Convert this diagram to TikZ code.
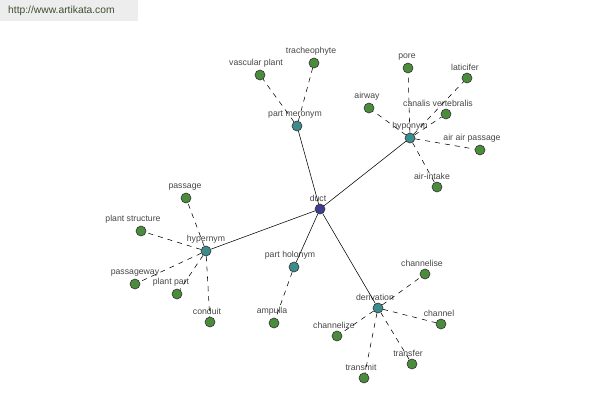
\documentclass[tikz,border=0pt]{standalone}
\usepackage{fontspec}
\setmainfont{Liberation Sans}
\begin{document}
\begin{tikzpicture}[x=1pt,y=-1pt,
  base/.style={circle,draw=black!80,line width=0.6pt,minimum size=10pt,inner sep=0pt},
  gnode/.style={base,fill=green1},
  tnode/.style={base,fill=teal1},
  cnode/.style={base,fill=navy1},
  lbl/.style={font=\fontsize{8.7}{9}\selectfont,text=black!72,inner sep=0.3pt},
  every label/.style={lbl},
  label distance=1.5pt,
  rel/.style={draw=black,line width=0.55pt},
  sub/.style={draw=black,line width=0.55pt,dash pattern=on 5pt off 5pt}]
\definecolor{green1}{HTML}{4A8C3C}
\definecolor{teal1}{HTML}{3C8C8C}
\definecolor{navy1}{HTML}{3E3E8E}
\definecolor{wmtext}{HTML}{3F4F30}
\useasboundingbox (0,0) rectangle (600,400);
\fill[white] (0,0) rectangle (600,400);
\node[fill=black!7,minimum width=138pt,minimum height=21pt,anchor=north west,inner sep=0pt] (wm) at (0,0) {};
\node[font=\fontsize{10.3}{11}\selectfont,text=wmtext,anchor=west,inner sep=0pt] (wmt) at (8,11) {http://www.artikata.com};
\coordinate (pduct) at (320,209);
\coordinate (ppm) at (297,126);
\coordinate (phyp) at (410,138);
\coordinate (phyper) at (206,251);
\coordinate (pph) at (294,267);
\coordinate (pder) at (378,308);
% nodes
\node[gnode,label={[xshift=-4pt]above:vascular plant}] (vp) at (260,75) {};
\node[gnode,label={[xshift=-3pt]above:tracheophyte}] (tr) at (314,63) {};
\node[gnode,label={[xshift=-1pt]above:pore}] (po) at (408,68) {};
\node[gnode,label={[xshift=-2pt]above:laticifer}] (la) at (467,78) {};
\node[gnode,label={[xshift=-2pt]above:airway}] (aw) at (369,108) {};
\node[gnode,label={[xshift=-8pt]above:canalis vertebralis}] (cv) at (446,114) {};
\node[gnode,label={[xshift=-8pt]above:air air passage}] (ap) at (480,150) {};
\node[gnode,label={[xshift=-5pt]above:air-intake}] (ai) at (437,187) {};
\node[gnode,label={[xshift=-1pt]above:passage}] (pa) at (186,198) {};
\node[gnode,label={[xshift=-8pt]above:plant structure}] (ps) at (141,231) {};
\node[gnode,label={above:passageway}] (pw) at (135,284) {};
\node[gnode,label={[xshift=-6pt]above:plant part}] (pp) at (177,294) {};
\node[gnode,label={[xshift=-3pt]above:conduit}] (co) at (210,322) {};
\node[gnode,label={[xshift=-2pt]above:ampulla}] (am) at (274,323) {};
\node[gnode,label={[xshift=-3pt]above:channelise}] (cs) at (425,274) {};
\node[gnode,label={[xshift=-2pt]above:channel}] (ch) at (441,324) {};
\node[gnode,label={[xshift=-3pt]above:channelize}] (cz) at (337,336) {};
\node[gnode,label={[xshift=-3pt]above:transmit}] (tm) at (364,378) {};
\node[gnode,label={[xshift=-4pt]above:transfer}] (tf) at (412,364) {};
\node[tnode,label={[xshift=-2pt]above:part meronym}] (pm) at (ppm) {};
\node[tnode,label={above:hyponym}] (hyp) at (phyp) {};
\node[tnode,label={above:hypernym}] (hyper) at (phyper) {};
\node[tnode,label={[xshift=-4pt]above:part holonym}] (ph) at (pph) {};
\node[tnode,label={[xshift=-3pt]above:derivation}] (der) at (pder) {};
\node[cnode,label={[xshift=-2pt]above:duct}] (duct) at (pduct) {};
% connectors
\draw[rel] (duct) -- (pm);
\draw[rel] (duct) -- (hyp);
\draw[rel] (duct) -- (hyper);
\draw[rel] (duct) -- (ph);
\draw[rel] (duct) -- (der);
\draw[sub] (pm) -- (vp);
\draw[sub] (pm) -- (tr);
\draw[sub] (hyp) -- (po);
\draw[sub] (hyp) -- (la);
\draw[sub] (hyp) -- (aw);
\draw[sub] (hyp) -- (cv);
\draw[sub] (hyp) -- (ap);
\draw[sub] (hyp) -- (ai);
\draw[sub] (hyper) -- (pa);
\draw[sub] (hyper) -- (ps);
\draw[sub] (hyper) -- (pw);
\draw[sub] (hyper) -- (pp);
\draw[sub] (hyper) -- (co);
\draw[sub] (ph) -- (am);
\draw[sub] (der) -- (cs);
\draw[sub] (der) -- (ch);
\draw[sub] (der) -- (cz);
\draw[sub] (der) -- (tm);
\draw[sub] (der) -- (tf);
\end{tikzpicture}
\end{document}
